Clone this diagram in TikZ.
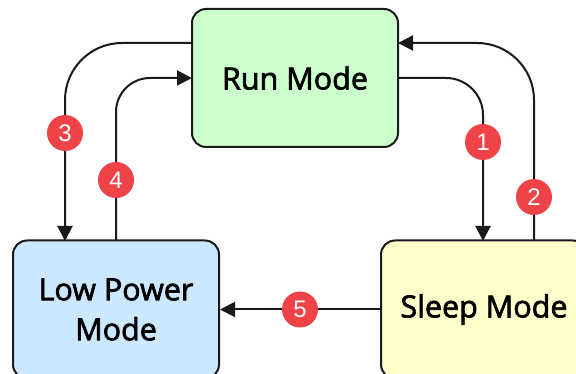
\documentclass[tikz,border=0pt]{standalone}
\usepackage{fontspec}
\setmainfont{Open Sans}
\newfontfamily\boxfont[FakeBold=2.2]{Open Sans}
\newfontfamily\badgefont{Liberation Sans}
\usetikzlibrary{arrows.meta}
\definecolor{runfill}{HTML}{CCFFCC}
\definecolor{lowfill}{HTML}{CCE8FF}
\definecolor{sleepfill}{HTML}{FFFFCC}
\definecolor{badgered}{HTML}{F04347}
\definecolor{edge}{HTML}{1A1A1A}
\tikzset{
  modebox/.style={draw=edge, line width=2pt, rounded corners=14pt, minimum width=206pt, minimum height=138pt, inner sep=0pt, align=center, font=\boxfont\fontsize{30.5}{40}\selectfont},
  conn/.style={draw=edge, line width=2pt, -{Triangle[length=15pt,width=15pt]}},
  badge/.style={circle, fill=badgered, minimum size=36pt, inner sep=0pt, text=white, font=\badgefont\fontsize{24}{24}\selectfont}
}
\begin{document}
\begin{tikzpicture}[x=1pt,y=-1pt]
\useasboundingbox (0,0) rectangle (576,374);
\clip (0,0) rectangle (576,374);
\node[modebox, fill=runfill] (run) at (295,78) {Run Mode};
\node[modebox, fill=lowfill] (low) at (116,309.5) {Low Power\\Mode};
\node[modebox, fill=sleepfill] (sleep) at (484,309.5) {Sleep Mode};
% 1: Run -> Sleep
\coordinate (a1) at (398,78);
\coordinate (b1) at (483,241);
\draw[conn, rounded corners=37pt] (a1) -| (b1);
% 2: Sleep -> Run
\coordinate (a2) at (534,241);
\coordinate (b2) at (398,43);
\draw[conn, rounded corners=57pt] (a2) |- (b2);
% 3: Run -> Low
\coordinate (a3) at (192,43);
\coordinate (b3) at (65,241);
\draw[conn, rounded corners=57pt] (a3) -| (b3);
% 4: Low -> Run
\coordinate (a4) at (116,241);
\coordinate (b4) at (192,78);
\draw[conn, rounded corners=34pt] (a4) |- (b4);
% 5: Sleep -> Low
\draw[conn] (sleep.west) -- (low.east);
\node[badge] (n1) at (483,142) {1};
\node[badge] (n2) at (534,197) {2};
\node[badge] (n3) at (65,133) {3};
\node[badge] (n4) at (116,180) {4};
\node[badge] (n5) at (300,309.5) {5};
\end{tikzpicture}
\end{document}
